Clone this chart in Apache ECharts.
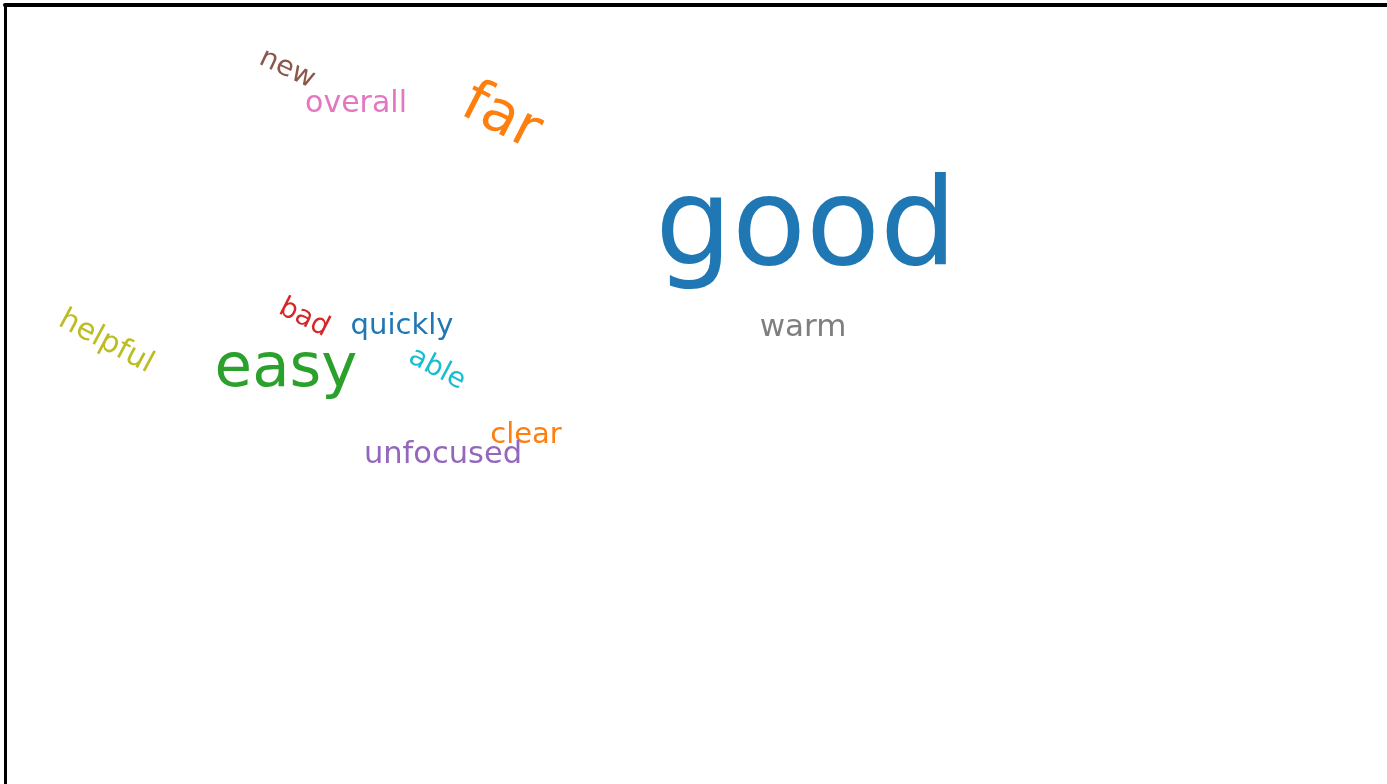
<!DOCTYPE html>
<html>
<head>
<meta charset="utf-8">
<script src="https://cdn.jsdelivr.net/npm/echarts@6/dist/echarts.min.js"></script>
<style>
html,body{margin:0;padding:0;background:#fff;}
#chart{width:1387px;height:784px;}
</style>
</head>
<body>
<div id="chart"></div>
<script>
// Word cloud data
var words   = ['good', 'far', 'new', 'overall', 'helpful', 'bad', 'quickly', 'easy', 'able', 'clear', 'unfocused', 'warm'];
var weights = [121, 58, 28, 30, 30, 28, 29, 61, 28, 29, 30.5, 31];
// layout (cloud placement in plot units)
var layoutX = [806, 501, 287, 356, 106, 304, 402, 286, 437, 526, 443, 803];
var layoutY = [233, 118, 69, 104, 342, 318, 326, 370, 369, 435, 455, 328];
var angles  = [0, -27, -25, 0, -28, -27, 0, 0, -28, 0, 0, 0];
var palette = ['#1f77b4', '#ff7f0e', '#8c564b', '#e377c2', '#bcbd22', '#d62728', '#1f77b4', '#2ca02c', '#17becf', '#ff7f0e', '#9467bd', '#7f7f7f'];

var seriesData = words.map(function (w, i) {
  return { name: w, value: [layoutX[i], layoutY[i], weights[i], angles[i]] };
});

var chart = echarts.init(document.getElementById('chart'), null, { renderer: 'canvas' });
chart.setOption({
  backgroundColor: '#ffffff',
  animation: false,
  grid: { left: 5, top: 5, right: 0, bottom: 0, containLabel: false },
  xAxis: {
    type: 'value', min: 5, max: 1387, position: 'top',
    axisLine: { show: true, onZero: false, lineStyle: { color: '#000', width: 4 } },
    axisTick: { show: false }, axisLabel: { show: false }, splitLine: { show: false }
  },
  yAxis: {
    type: 'value', min: 5, max: 784, inverse: true, position: 'left',
    axisLine: { show: true, onZero: false, lineStyle: { color: '#000', width: 3 } },
    axisTick: { show: false }, axisLabel: { show: false }, splitLine: { show: false }
  },
  series: [{
    type: 'custom',
    coordinateSystem: 'cartesian2d',
    data: seriesData,
    renderItem: function (params, api) {
      var i = params.dataIndex;
      var p = api.coord([api.value(0), api.value(1)]);
      return {
        type: 'text',
        x: p[0],
        y: p[1],
        rotation: api.value(3) * Math.PI / 180,
        style: {
          text: words[i],
          fontSize: api.value(2),
          fontFamily: 'DejaVu Sans',
          fill: palette[i],
          align: 'center',
          verticalAlign: 'middle'
        }
      };
    }
  }]
});
</script>
</body>
</html>
